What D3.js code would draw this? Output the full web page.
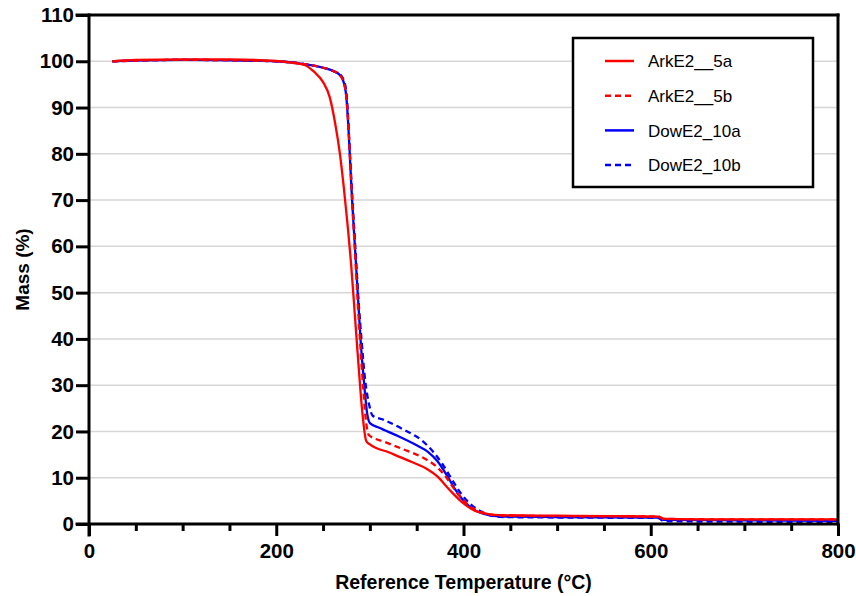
<!DOCTYPE html>
<html>
<head>
<meta charset="utf-8">
<script src="https://cdn.jsdelivr.net/npm/d3@7"></script>
<style>
  body { margin: 0; background: #fff; }
  svg text { font-family: "Liberation Sans", Arial, sans-serif; }
</style>
</head>
<body>
<div id="tga_chart"></div>
<script>
// tick values
var xTicksMajor = [0, 200, 400, 600, 800];
var xTicksMinor = [50, 100, 150, 250, 300, 350, 450, 500, 550, 650, 700, 750];
var yTicks = [0, 10, 20, 30, 40, 50, 60, 70, 80, 90, 100, 110];

var seriesNames = ["ArkE2__5a", "ArkE2__5b", "DowE2_10a", "DowE2_10b"];

// ArkE2__5a (solid red)
var ark5aTemp = [25, 50, 100, 150, 200, 215, 230, 240, 250, 257, 263, 268, 272, 276, 280, 284, 288, 292, 296, 300, 320, 340, 360, 372, 385, 398, 410, 425, 440, 500, 560, 608, 614, 650, 700, 800];
var ark5aMass = [100, 100.3, 100.4, 100.4, 100.1, 99.7, 99.2, 97.8, 95.5, 92.3, 86.5, 80, 73, 65, 56, 45, 34, 24, 18, 17.2, 15.5, 13.8, 12.0, 10.3, 7.4, 4.8, 3.1, 2.2, 1.9, 1.8, 1.7, 1.6, 1.1, 1.0, 1.0, 1.0];

// ArkE2__5b (dashed red)
var ark5bTemp = [25, 100, 200, 230, 250, 262, 268, 272, 275, 277, 279, 281, 284, 287, 290, 293, 296, 299, 315, 335, 357, 370, 380, 390, 400, 410, 420, 430, 445, 500, 608, 614, 700, 800];
var ark5bMass = [100, 100.3, 100, 99.4, 98.6, 97.8, 97, 95.5, 92, 86, 78, 70, 59, 48, 38, 29, 22, 19.2, 17.8, 16.2, 14.3, 12.6, 10.5, 7.6, 5.1, 3.4, 2.5, 2.0, 1.8, 1.7, 1.6, 1.1, 1.0, 1.0];

// DowE2_10a (solid blue)
var dow10aTemp = [25, 100, 200, 230, 250, 262, 268, 272, 275, 277, 279, 281, 284, 287, 290, 294, 297, 300, 310, 330, 350, 362, 372, 382, 392, 402, 412, 425, 440, 500, 608, 614, 700, 800];
var dow10aMass = [100, 100.3, 100, 99.4, 98.6, 97.8, 97, 95.5, 92, 86, 78, 70, 60, 50, 40, 30, 24, 21.8, 20.8, 19, 17, 15.6, 13.6, 10.6, 7.2, 4.6, 3.0, 2.0, 1.6, 1.5, 1.4, 0.9, 0.8, 0.7];

// DowE2_10b (dashed blue)
var dow10bTemp = [25, 100, 200, 230, 250, 262, 268, 272, 275, 277, 279, 282, 285, 288, 291, 295, 299, 303, 315, 335, 357, 368, 378, 388, 398, 408, 418, 430, 445, 500, 608, 614, 700, 800];
var dow10bMass = [100, 100.3, 100, 99.4, 98.6, 97.8, 97.2, 96, 93, 87, 79, 68, 58, 48, 40, 31, 26, 23.4, 22.5, 20.5, 17.8, 15.5, 12.8, 9.5, 6.4, 4.2, 2.8, 1.8, 1.5, 1.4, 1.3, 0.6, 0.5, 0.4];

function zipSeries(temps, masses) {
    return temps.map(function (t, i) { return { t: t, m: masses[i] }; });
}

var series = [
    { name: "DowE2_10a", color: "#0000ff", dash: null, data: zipSeries(dow10aTemp, dow10aMass) },
    { name: "DowE2_10b", color: "#0000ff", dash: "6,4", data: zipSeries(dow10bTemp, dow10bMass) },
    { name: "ArkE2__5b", color: "#ff0000", dash: "6,4", data: zipSeries(ark5bTemp, ark5bMass) },
    { name: "ArkE2__5a", color: "#ff0000", dash: null, data: zipSeries(ark5aTemp, ark5aMass) }
];

var width = 856, height = 596;

var svg = d3.select("#tga_chart")
    .append("svg")
    .attr("width", width)
    .attr("height", height);

var x = d3.scaleLinear().domain([0, 800]).range([89, 838]);
var y = d3.scaleLinear().domain([0, 110]).range([524, 15]);

// light horizontal grid
svg.append("g")
    .selectAll("line")
    .data(yTicks.filter(function (d) { return d > 0 && d < 110; }))
    .join("line")
    .attr("x1", x(0)).attr("x2", x(800))
    .attr("y1", function (d) { return y(d); })
    .attr("y2", function (d) { return y(d); })
    .attr("stroke", "#d6d6d6")
    .attr("stroke-width", 1.5);

// curves
var line = d3.line()
    .x(function (d) { return x(d.t); })
    .y(function (d) { return y(d.m); })
    .curve(d3.curveMonotoneX);

svg.append("g")
    .selectAll("path")
    .data(series)
    .join("path")
    .attr("d", function (d) { return line(d.data); })
    .attr("fill", "none")
    .attr("stroke", function (d) { return d.color; })
    .attr("stroke-width", 2.3)
    .attr("stroke-dasharray", function (d) { return d.dash; });

// Y axis
var yAxis = svg.append("g")
    .attr("transform", "translate(" + x(0) + ",0)")
    .call(d3.axisLeft(y).tickValues(yTicks).tickSize(13).tickPadding(2));

// X axis, major ticks with labels
var xAxis = svg.append("g")
    .attr("transform", "translate(0," + y(0) + ")")
    .call(d3.axisBottom(x).tickValues(xTicksMajor).tickSize(12).tickPadding(8).tickFormat(d3.format("d")));

// X axis minor ticks
var xMinor = svg.append("g")
    .attr("transform", "translate(0," + y(0) + ")")
    .call(d3.axisBottom(x).tickValues(xTicksMinor).tickSize(7).tickFormat(""));

[yAxis, xAxis, xMinor].forEach(function (a) {
    a.select(".domain").remove();
    a.selectAll(".tick line").attr("stroke", "#000").attr("stroke-width", 3);
    a.selectAll(".tick text")
        .attr("fill", "#000")
        .attr("font-size", 20.5)
        .attr("font-weight", "bold");
});
xAxis.selectAll(".tick text").attr("dy", "0.68em");

// axis lines and the top/right frame
var frame = svg.append("g")
    .attr("stroke", "#000")
    .attr("stroke-width", 3)
    .attr("stroke-linecap", "square");
frame.append("line").attr("x1", x(0)).attr("x2", x(0)).attr("y1", y(110)).attr("y2", y(0) + 11);
frame.append("line").attr("x1", x(0) - 12).attr("x2", x(800)).attr("y1", y(0)).attr("y2", y(0));
frame.append("line").attr("x1", x(0) - 12).attr("x2", x(800)).attr("y1", y(110)).attr("y2", y(110));
frame.append("line").attr("x1", x(800)).attr("x2", x(800)).attr("y1", y(110)).attr("y2", y(0));

// axis titles
svg.append("text")
    .attr("x", (x(0) + x(800)) / 2)
    .attr("y", 589)
    .attr("text-anchor", "middle")
    .attr("font-size", 19.5)
    .attr("font-weight", "bold")
    .text("Reference Temperature (°C)");

svg.append("text")
    .attr("transform", "translate(29," + y(55) + ") rotate(-90)")
    .attr("text-anchor", "middle")
    .attr("font-size", 19)
    .attr("font-weight", "bold")
    .text("Mass (%)");

// legend
var legendOrder = [series[3], series[2], series[0], series[1]];
var legend = svg.append("g");
legend.append("rect")
    .attr("x", 573).attr("y", 38)
    .attr("width", 240).attr("height", 149)
    .attr("fill", "#fff")
    .attr("stroke", "#000")
    .attr("stroke-width", 2.5);

var rows = legend.selectAll("g.row")
    .data(legendOrder)
    .join("g")
    .attr("class", "row")
    .attr("transform", function (d, i) { return "translate(0," + (61 + i * 34.7) + ")"; });

rows.append("line")
    .attr("x1", 605).attr("x2", 634)
    .attr("stroke", function (d) { return d.color; })
    .attr("stroke-width", 2.5)
    .attr("stroke-dasharray", function (d) { return d.dash; });

rows.append("text")
    .attr("x", 648)
    .attr("dy", "0.36em")
    .attr("font-size", 17)
    .text(function (d) { return d.name; });
</script>
</body>
</html>
